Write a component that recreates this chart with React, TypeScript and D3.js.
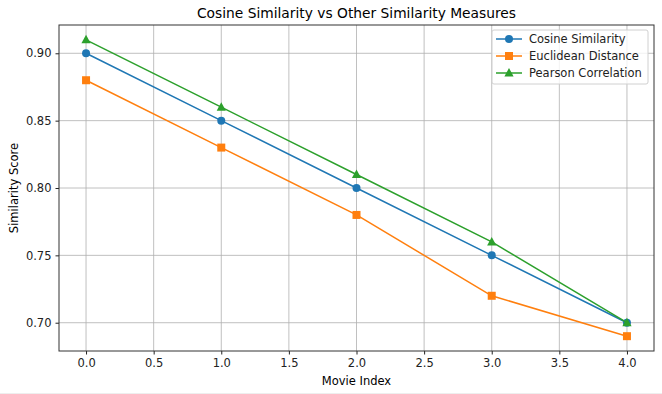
import React, { useRef, useEffect } from "react";
import * as d3 from "d3";

const movieIndex = [0, 1, 2, 3, 4];
const cosine = [0.9, 0.85, 0.8, 0.75, 0.7];
const euclidean = [0.88, 0.83, 0.78, 0.72, 0.69];
const pearson = [0.91, 0.86, 0.81, 0.76, 0.7];
const xTicks = [0, 0.5, 1, 1.5, 2, 2.5, 3, 3.5, 4];
const yTicks = [0.7, 0.75, 0.8, 0.85, 0.9];

const series = [
  { name: "Cosine Similarity", values: cosine, color: "#1f77b4", marker: "circle" },
  { name: "Euclidean Distance", values: euclidean, color: "#ff7f0e", marker: "square" },
  { name: "Pearson Correlation", values: pearson, color: "#2ca02c", marker: "triangle" }
];

const font = "'DejaVu Sans', sans-serif";

const drawMarker = (g: any, type: string, x: number, y: number, color: string) => {
  if (type === "circle") {
    g.append("circle").attr("cx", x).attr("cy", y).attr("r", 4).attr("fill", color);
  } else if (type === "square") {
    g.append("rect").attr("x", x - 4).attr("y", y - 4).attr("width", 8).attr("height", 8).attr("fill", color);
  } else {
    g.append("path")
      .attr("d", `M${x},${y - 5}L${x + 4.6},${y + 3.5}L${x - 4.6},${y + 3.5}Z`)
      .attr("fill", color);
  }
};

const Chart = () => {
  const node: any = useRef();

  useEffect(() => {
    const width = 662,
      height = 394;
    const margin = { top: 25, right: 8, bottom: 43, left: 59 };
    const svg = d3.select(node.current).attr("width", width).attr("height", height);
    svg.selectAll("*").remove();

    const x = d3.scaleLinear().domain([-0.2, 4.2]).range([margin.left, width - margin.right]);
    const y = d3.scaleLinear().domain([0.679, 0.921]).range([height - margin.bottom, margin.top]);

    svg.append("rect").attr("width", width).attr("height", height).attr("fill", "white");

    // grid
    const grid = svg.append("g").attr("stroke", "#b0b0b0").attr("stroke-width", 0.8);
    xTicks.forEach(t =>
      grid.append("line").attr("x1", x(t)).attr("x2", x(t)).attr("y1", y.range()[1]).attr("y2", y.range()[0])
    );
    yTicks.forEach(t =>
      grid.append("line").attr("x1", x.range()[0]).attr("x2", x.range()[1]).attr("y1", y(t)).attr("y2", y(t))
    );

    // lines + markers
    const line = d3
      .line<number>()
      .x((_, i) => x(movieIndex[i]))
      .y(d => y(d));
    series.forEach(s => {
      svg.append("path").attr("d", line(s.values)).attr("fill", "none").attr("stroke", s.color).attr("stroke-width", 1.5);
      const mg = svg.append("g");
      s.values.forEach((v, i) => drawMarker(mg, s.marker, x(movieIndex[i]), y(v), s.color));
    });

    // axes
    const xAxis = svg
      .append("g")
      .attr("transform", `translate(0,${height - margin.bottom})`)
      .call(d3.axisBottom(x).tickValues(xTicks).tickFormat(d3.format(".1f")).tickSize(3.5).tickPadding(4));
    const yAxis = svg
      .append("g")
      .attr("transform", `translate(${margin.left},0)`)
      .call(d3.axisLeft(y).tickValues(yTicks).tickFormat(d3.format(".2f")).tickSize(3.5).tickPadding(4));
    [xAxis, yAxis].forEach(a => {
      a.select(".domain").remove();
      a.selectAll("text").attr("font-family", font).attr("font-size", 11.5).attr("fill", "#222");
      a.selectAll("line").attr("stroke", "#222");
    });

    // frame
    svg
      .append("rect")
      .attr("x", margin.left)
      .attr("y", margin.top)
      .attr("width", width - margin.left - margin.right)
      .attr("height", height - margin.top - margin.bottom)
      .attr("fill", "none")
      .attr("stroke", "#333")
      .attr("stroke-width", 1);

    // title / labels
    svg
      .append("text")
      .attr("x", (margin.left + width - margin.right) / 2)
      .attr("y", 18)
      .attr("text-anchor", "middle")
      .attr("font-family", font)
      .attr("font-size", 13.8)
      .text("Cosine Similarity vs Other Similarity Measures");
    svg
      .append("text")
      .attr("x", (margin.left + width - margin.right) / 2)
      .attr("y", 385)
      .attr("text-anchor", "middle")
      .attr("font-family", font)
      .attr("font-size", 11.5)
      .text("Movie Index");
    svg
      .append("text")
      .attr("transform", `translate(18,${(margin.top + height - margin.bottom) / 2}) rotate(-90)`)
      .attr("text-anchor", "middle")
      .attr("font-family", font)
      .attr("font-size", 11.5)
      .text("Similarity Score");

    // legend
    const lg = svg.append("g").attr("transform", "translate(492,30)");
    lg.append("rect")
      .attr("width", 156)
      .attr("height", 54)
      .attr("rx", 2)
      .attr("fill", "white")
      .attr("fill-opacity", 0.8)
      .attr("stroke", "#d0d0d0");
    series.forEach((s, i) => {
      const cy = 9 + i * 17;
      lg.append("line").attr("x1", 4).attr("x2", 30).attr("y1", cy).attr("y2", cy).attr("stroke", s.color).attr("stroke-width", 1.5);
      drawMarker(lg, s.marker, 17, cy, s.color);
      lg.append("text")
        .attr("x", 37)
        .attr("y", cy + 4)
        .attr("font-family", font)
        .attr("font-size", 11.5)
        .attr("fill", "#222")
        .text(s.name);
    });

    // faint bottom border line seen in the picture
    svg.append("line").attr("x1", 0).attr("x2", width).attr("y1", 393.5).attr("y2", 393.5).attr("stroke", "#eee");
  }, []);

  return <svg ref={node} style={{ position: "absolute", left: 0, top: 0 }}></svg>;
};

export default function App() {
  return <Chart />;
}
